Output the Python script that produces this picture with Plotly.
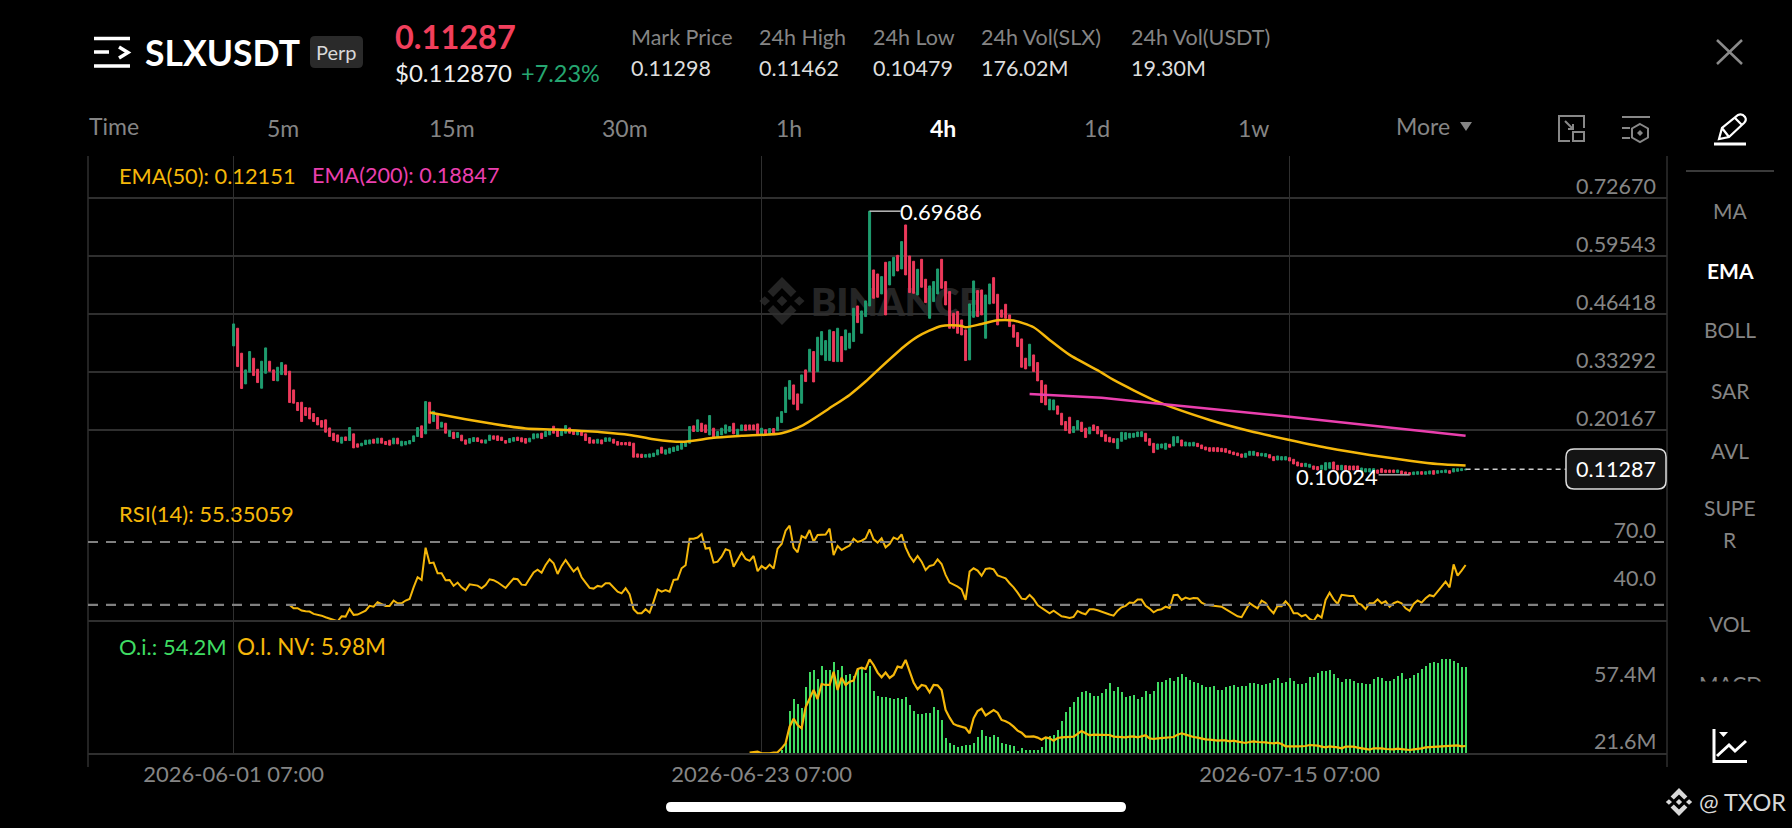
import re
import pandas as pd
import plotly.graph_objects as go

W, H = 1792, 828

# 4h candles from 2026-06-01 07:00
candle_dir = ("grrggrrggr" "rggrrrrrrr" "rrrrrrrgrg" "rrgggrgrrr" "grgggggrgr"
              "grgrgrgrrg" "grrggrrrrg" "grrrgggrgg" "rrggrrgrrr" "rgrggrrrrr"
              "rrrggggrgg" "gggggrgrrg" "rggggrggrr" "rrgrgrgggg" "rrgrgrgggg"
              "rgrgggrggg" "rrgrggrgrr" "rgrrgggrrr" "rrrrggrrgg" "rrrrrrrrrg"
              "rrrrggrrrr" "ggrrgrrrrr" "rgggggggrr" "rgggrggrgg" "grrrrrrrrr"
              "rrrgggrggr" "rgggrrrrgg" "rrgggrrgrr" "rrggggrrrr" "rgrrrggrgg"
              "rgggrgggg")
highs = [
    .4417, .4319, .3754, .3377, .3792, .3641, .3392, .3573, .3875, .3573,
    .3377, .3437, .3543, .3490, .3347, .2924, .2638, .2645, .2525, .2517,
    .2389, .2299, .2230, .2246, .2064, .1944, .1906, .1854, .1861, .2072,
    .1929, .1703, .1718, .1786, .1793, .1808, .1831, .1831, .1756, .1786,
    .1831, .1831, .1763, .1756, .1778, .1884, .2072, .2110, .2660, .2645,
    .2442, .2374, .2193, .2170, .2004, .1967, .1959, .1900, .1793, .1823,
    .1846, .1839, .1793, .1793, .1900, .1884, .1884, .1854, .1778, .1823,
    .1846, .1854, .1839, .1823, .1831, .1929, .1929, .1944, .1982, .2020,
    .2102, .2034, .2004, .2117, .2064, .1997, .2004, .1997, .1929, .1846,
    .1793, .1808, .1793, .1839, .1839, .1808, .1756, .1733, .1733, .1741,
    .1718, .1476, .1469, .1461, .1476, .1492, .1567, .1628, .1567, .1605,
    .1628, .1658, .1718, .1756, .2095, .2110, .2246, .2170, .2132, .2344,
    .2057, .1982, .2057, .2132, .2095, .2170, .2034, .2132, .2132, .2132,
    .2132, .2155, .2057, .2020, .2050, .2050, .2306, .2434, .2985, .3135,
    .3037, .2834, .3264, .3377, .3844, .3792, .4116, .4244, .4040, .4282,
    .4244, .4319, .4131, .4282, .4206, .4772, .4824, .4711, .4938, .69686,
    .5639, .5548, .5488, .5812, .5827, .5925, .5970, .6280, .6657, .5955,
    .5835, .5654, .5880, .5428, .5277, .5375, .5661, .5880, .5375, .5149,
    .4659, .4696, .4508, .4282, .4870, .5390, .5171, .5186, .5073, .5322,
    .5465, .5088, .4734, .4862, .4621, .4395, .4221, .4078, .3641, .3957,
    .3716, .3543, .3136, .3037, .2713, .2698, .2562, .2396, .2208, .2306,
    .2095, .2230, .2193, .2057, .2080, .2132, .2095, .2002, .1911, .1851,
    .1821, .1821, .1964, .1957, .1942, .1942, .1972, .1979, .1942, .1821,
    .1715, .1700, .1700, .1715, .1693, .1866, .1866, .1791, .1745, .1730,
    .1738, .1715, .1678, .1632, .1617, .1617, .1617, .1602, .1595, .1549,
    .1519, .1497, .1474, .1489, .1534, .1534, .1504, .1489, .1482, .1459,
    .1414, .1429, .1414, .1414, .1391, .1353, .1293, .1263, .1263, .1240,
    .1203, .1188, .1218, .1278, .1278, .1293, .1218, .1218, .1210, .1203,
    .1203, .1203, .1157, .1142, .1142, .1142, .1112, .1142, .1112, .1112,
    .1112, .1112, .1090, .1067, .1052, .1067, .1074, .1074, .1074, .1090,
    .1097, .1097, .1097, .1112, .1097, .1142, .1142, .1142, .11287,
]
lows = [
    .3920, .3452, .2955, .3060, .3324, .3249, .3090, .2962, .3301, .3347,
    .3136, .3128, .3271, .3264, .2638, .2623, .2457, .2208, .2344, .2268,
    .2208, .2132, .2080, .1967, .1869, .1778, .1748, .1718, .1778, .1778,
    .1612, .1628, .1658, .1688, .1703, .1718, .1718, .1718, .1688, .1673,
    .1703, .1703, .1658, .1680, .1703, .1756, .1869, .1846, .1929, .2170,
    .2208, .2042, .2080, .1945, .1869, .1823, .1846, .1771, .1695, .1718,
    .1756, .1756, .1725, .1718, .1778, .1808, .1778, .1778, .1718, .1733,
    .1763, .1778, .1748, .1718, .1748, .1816, .1839, .1823, .1869, .1906,
    .1944, .1869, .1891, .1944, .1944, .1914, .1906, .1891, .1778, .1718,
    .1718, .1718, .1703, .1756, .1763, .1718, .1673, .1680, .1680, .1665,
    .1401, .1401, .1394, .1401, .1401, .1416, .1454, .1492, .1469, .1492,
    .1529, .1552, .1582, .1643, .1718, .1982, .1982, .1982, .1959, .1906,
    .1831, .1846, .1906, .1944, .1982, .1929, .1891, .2004, .2004, .2020,
    .2020, .1929, .1906, .1906, .1906, .1944, .2004, .2185, .2412, .2713,
    .2600, .2472, .2623, .3113, .3339, .3105, .3339, .3716, .3588, .3588,
    .3565, .3565, .3565, .3829, .3867, .4018, .4447, .4206, .4583, .4824,
    .4998, .5021, .5096, .4621, .5299, .5503, .5616, .5661, .5526, .5126,
    .5111, .5073, .5247, .4900, .4545, .4922, .5096, .5224, .4847, .4319,
    .4319, .4206, .4168, .3588, .3603, .4568, .4583, .4621, .4093, .4870,
    .4885, .4395, .4568, .4545, .4357, .4116, .3905, .3437, .3399, .3467,
    .3339, .3128, .2638, .2585, .2472, .2472, .2374, .2132, .2004, .1944,
    .1959, .2020, .1982, .1846, .1929, .2004, .1929, .1866, .1761, .1745,
    .1730, .1595, .1761, .1806, .1836, .1851, .1866, .1866, .1761, .1670,
    .1504, .1580, .1610, .1580, .1625, .1655, .1730, .1655, .1655, .1655,
    .1655, .1640, .1595, .1565, .1534, .1534, .1527, .1527, .1512, .1489,
    .1459, .1436, .1399, .1399, .1444, .1444, .1429, .1429, .1414, .1384,
    .1323, .1338, .1338, .1338, .1316, .1248, .1203, .1188, .1188, .1173,
    .1127, .1112, .1127, .1112, .1150, .1127, .1112, .1112, .1112, .1112,
    .1112, .1097, .1067, .1067, .1067, .1052, .1037, .1052, .1052, .1052,
    .1052, .1052, .1022, .1007, .10024, .1007, .1014, .1014, .1014, .1022,
    .1014, .1037, .1052, .1052, .1037, .1067, .1082, .1097, .1112,
]

ema50_idx = [49, 58, 64, 73, 80, 92, 99, 105, 112, 120, 127, 137, 142, 150, 154, 158, 162,
             168, 171, 177, 182, 183, 187, 191, 195, 200, 204, 209, 217, 220, 231, 244,
             254, 264, 274, 284, 294, 301, 308]
ema50 = [.2412, .2261, .2170, .2050, .2027, .1967, .1906, .1808, .1748, .1839, .1884, .1944,
         .2110, .2570, .2811, .3113, .3452, .3935, .4131, .4372, .4372, .4342, .4417, .4500,
         .4493, .4342, .4055, .3716, .3316, .3150, .2657, .2243, .1994, .1791, .1602, .1451,
         .1323, .1248, .12151]
ema200_idx = [199, 208, 217, 232, 264, 308]
ema200 = [.2834, .2789, .2745, .2605, .2318, .18847]

rsi_start = 14
rsi = [
    30.0, 27.9, 27.9, 26.4, 26.0, 25.8, 24.3, 23.9, 23.2, 22.2, 21.3, 20.3, 19.6, 22.8, 22.6, 27.5,
    23.7, 23.9, 25.3, 26.4, 29.4, 28.9, 31.7, 30.4, 29.4, 29.4, 32.8, 31.1, 31.1, 32.8, 33.8, 41.2,
    47.6, 45.9, 66.4, 56.5, 56.9, 50.1, 50.1, 45.7, 45.9, 42.1, 44.2, 41.2, 39.3, 43.1, 42.7, 42.3,
    40.6, 42.7, 46.3, 45.7, 44.4, 42.5, 40.8, 43.8, 46.7, 46.3, 42.9, 42.7, 46.5, 50.7, 52.4, 50.5,
    55.4, 59.0, 56.5, 49.7, 54.8, 58.6, 54.8, 51.2, 53.7, 47.6, 44.2, 40.8, 40.4, 42.1, 41.6, 43.8,
    43.8, 41.0, 38.5, 37.4, 40.6, 36.8, 27.3, 24.7, 24.7, 27.3, 25.1, 32.1, 39.9, 38.5, 39.5, 38.5,
    45.9, 46.3, 53.3, 55.2, 72.1, 72.1, 72.8, 75.1, 65.8, 66.2, 56.9, 57.5, 60.7, 65.4, 64.5, 54.3,
    58.6, 63.2, 59.2, 58.0, 61.1, 51.4, 54.8, 52.9, 55.6, 53.1, 65.8, 68.7, 77.2, 80.4, 66.4, 63.4,
    73.8, 72.5, 77.6, 70.2, 74.4, 74.7, 74.7, 78.5, 61.7, 67.5, 64.9, 66.4, 67.7, 72.1, 70.0, 70.8,
    72.3, 78.0, 71.7, 69.6, 72.3, 66.6, 68.7, 72.8, 71.7, 74.9, 66.6, 61.1, 57.5, 61.1, 57.5, 52.2,
    54.8, 55.4, 59.0, 56.0, 49.1, 44.2, 43.1, 41.6, 39.9, 33.2, 51.2, 53.3, 51.8, 48.6, 52.9, 53.3,
    52.6, 48.8, 47.8, 46.9, 43.8, 41.2, 37.8, 34.0, 33.6, 36.4, 33.8, 30.0, 28.1, 26.2, 24.7, 26.4,
    24.7, 22.8, 22.4, 21.8, 22.4, 26.2, 24.9, 24.1, 27.3, 27.3, 26.6, 25.6, 24.5, 23.9, 23.2, 26.4,
    28.5, 29.4, 31.5, 31.3, 33.4, 33.4, 29.4, 27.7, 25.3, 26.8, 27.3, 28.9, 28.1, 36.2, 36.4, 33.2,
    34.7, 33.8, 34.4, 34.2, 31.5, 30.2, 29.8, 29.4, 29.4, 28.9, 27.3, 25.8, 24.3, 22.8, 22.2, 26.8,
    31.1, 29.4, 27.9, 32.8, 31.3, 27.3, 24.7, 29.4, 29.2, 32.3, 29.4, 24.7, 24.7, 22.8, 23.7, 21.1,
    19.8, 23.7, 22.0, 33.2, 37.8, 33.6, 30.6, 36.4, 35.9, 35.7, 35.7, 31.1, 30.0, 27.3, 31.1, 31.1,
    33.6, 31.1, 32.3, 28.9, 31.1, 32.1, 31.1, 27.9, 26.2, 30.6, 32.8, 31.5, 34.2, 36.2, 35.5, 38.3,
    41.6, 44.8, 41.2, 55.8, 48.6, 51.8, 55.35059,
]

oi_start = 137
oi = [
    2.5, 6.7, 26.7, 34.4, 31.3, 29.0, 41.9, 51.5, 52.3, 46.9, 55.0, 52.3, 52.3, 57.8, 52.3, 55.0,
    49.4, 50.0, 49.0, 53.4, 54.0, 50.7, 55.0, 39.2, 36.3, 35.9, 35.4, 34.8, 34.6, 35.0, 34.6, 35.4,
    30.9, 26.9, 24.8, 24.8, 25.9, 25.9, 29.2, 27.5, 21.1, 10.0, 7.1, 5.8, 4.6, 5.2, 5.4, 5.6,
    7.1, 10.8, 14.8, 11.3, 10.6, 11.9, 10.4, 6.9, 6.3, 5.8, 5.2, 1.7, 3.5, 2.5, 2.3, 2.3,
    2.5, 4.4, 10.8, 11.3, 11.7, 15.0, 20.9, 26.1, 29.2, 32.3, 35.4, 38.6, 39.2, 37.9, 36.3, 36.3,
    37.9, 40.9, 44.6, 39.4, 41.7, 38.8, 35.4, 36.3, 36.7, 34.4, 35.9, 39.2, 37.7, 39.2, 45.0, 45.2,
    46.3, 47.3, 45.9, 48.4, 49.8, 48.4, 46.3, 45.0, 44.2, 43.2, 41.7, 41.9, 42.5, 39.8, 40.2, 42.1,
    42.5, 43.2, 41.9, 42.3, 42.5, 44.2, 44.2, 44.0, 43.2, 43.6, 44.2, 46.3, 47.5, 44.6, 45.2, 47.3,
    45.7, 44.0, 44.0, 44.4, 48.0, 48.4, 50.5, 51.7, 51.9, 52.5, 50.0, 47.7, 44.8, 46.7, 46.7, 45.5,
    44.2, 44.4, 44.0, 43.6, 46.9, 48.2, 47.7, 45.7, 45.7, 46.7, 49.0, 50.9, 47.1, 47.3, 49.4, 50.5,
    53.2, 54.8, 57.1, 57.3, 57.1, 59.2, 59.2, 59.4, 58.2, 56.7, 54.2, 54.2,
]
nv_start = 129
oi_nv = [
    4.06, 4.16, 4.35, 3.87, 3.77, 3.87, 4.06, 4.16, 5.31, 6.75, 11.56, 13.87, 12.04, 11.08, 17.14, 19.74,
    22.14, 19.55, 23.88, 23.59, 23.59, 27.41, 22.14, 25.70, 23.59, 24.55, 24.84, 28.20, 28.59, 28.20, 30.99, 29.36,
    27.15, 25.80, 27.15, 25.61, 26.47, 28.88, 28.59, 30.80, 27.41, 24.26, 22.34, 23.59, 23.30, 21.47, 23.59, 23.49,
    22.14, 16.37, 14.16, 12.33, 11.85, 11.56, 11.18, 9.64, 13.97, 16.08, 16.76, 14.83, 15.70, 16.37, 15.60, 13.49,
    13.10, 12.52, 11.56, 10.41, 9.83, 8.68, 8.68, 8.77, 8.39, 7.81, 8.48, 8.19, 7.52, 8.29, 8.48, 8.48,
    8.58, 8.68, 9.45, 10.31, 9.64, 9.06, 9.25, 9.25, 9.16, 9.25, 9.16, 8.68, 8.58, 8.48, 8.48, 8.68,
    8.77, 8.48, 8.68, 9.06, 8.19, 8.00, 8.19, 8.29, 8.48, 8.68, 8.58, 9.25, 9.64, 9.25, 8.87, 8.58,
    8.39, 8.10, 7.91, 7.81, 7.62, 7.52, 7.62, 7.62, 7.33, 7.52, 7.23, 6.94, 6.85, 7.14, 7.33, 7.14,
    7.14, 7.04, 6.85, 6.75, 6.94, 6.56, 5.89, 5.79, 5.89, 5.89, 5.89, 5.98, 6.27, 6.27, 6.08, 5.79,
    5.60, 5.89, 5.79, 5.60, 5.31, 5.79, 5.79, 5.79, 5.50, 5.31, 5.02, 4.92, 5.31, 5.41, 5.31, 5.12,
    5.02, 5.02, 5.21, 5.12, 4.92, 4.83, 5.02, 5.12, 5.31, 5.60, 5.69, 5.69, 5.79, 5.79, 5.89, 5.98,
    6.08, 6.17, 5.89, 5.98,
]

price_ticks = [0.72670, 0.59543, 0.46418, 0.33292, 0.20167, 0.07040]
price_labels = ["0.72670", "0.59543", "0.46418", "0.33292", "0.20167", "0.07040"]
rsi_ticks = [70, 40]
rsi_levels = [70, 30]
oi_labels = ["57.4M", "21.6M"]
date_ticks = ["2026-06-01 07:00", "2026-06-23 07:00", "2026-07-15 07:00"]
last_price = 0.11287
max_price, min_price = 0.69686, 0.10024
max_i, min_i = 159, 294

UP, DOWN = "#1f9d6f", "#ee3a5b"
YEL, PINK, OIG = "#f5b70a", "#ea3fae", "#3fdc62"
GREY, FAINT, GRID = "#858585", "#dddddd", "#2f2f2f"
FONT = "Lato"

dates = pd.date_range("2026-06-01 07:00", periods=len(highs), freq="4h")
date_str = dates.strftime("%Y-%m-%d %H:%M").tolist()
opens = [l if d == "g" else h for d, h, l in zip(candle_dir, highs, lows)]
closes = [h if d == "g" else l for d, h, l in zip(candle_dir, highs, lows)]
opens[-1], closes[-1] = lows[-1], last_price


def fx(x):
    return x / W


def fy(y):
    return 1 - y / H


def hours(i, h):
    return (dates[i] + pd.Timedelta(hours=h)).strftime("%Y-%m-%d %H:%M")


def px_path(s):
    # numbers in the string are page pixels, x y x y ...
    nums = iter(range(10000))

    def rep(m):
        v = float(m.group())
        return f"{fx(v):.5f}" if next(nums) % 2 == 0 else f"{fy(v):.5f}"
    return re.sub(r"\d+\.?\d*", rep, s)


def rr(x0, y0, x1, y1, r):
    return (f"M{x0 + r} {y0} L{x1 - r} {y0} Q{x1} {y0} {x1} {y0 + r} L{x1} {y1 - r} Q{x1} {y1} {x1 - r} {y1} "
            f"L{x0 + r} {y1} Q{x0} {y1} {x0} {y1 - r} L{x0} {y0 + r} Q{x0} {y0} {x0 + r} {y0} Z")


def logo(cx, cy, r):
    def poly(pts):
        return "M" + " L".join(f"{cx + a * r:.2f} {cy + b * r:.2f}" for a, b in pts) + " Z"
    top = [(-.6, -.4), (0, -1), (.6, -.4), (.37, -.17), (0, -.54), (-.37, -.17)]
    bot = [(a, -b) for a, b in top]
    parts = [top, bot,
             [(0, -.22), (.22, 0), (0, .22), (-.22, 0)],
             [(-.72, -.2), (-.5, 0 - .0), (-.72, .2), (-.94, 0)],
             [(.72, -.2), (.94, 0), (.72, .2), (.5, 0)]]
    return " ".join(poly(p) for p in parts)


shapes, notes = [], []


def draw(path, color=None, width=2, fill=None, layer="above"):
    shapes.append(dict(type="path", xref="paper", yref="paper", path=px_path(path), layer=layer,
                       line=dict(color=color or "rgba(0,0,0,0)", width=width if color else 0),
                       fillcolor=fill or "rgba(0,0,0,0)"))


def txt(x, y, s, size=20, color=GREY, anchor="left", weight=400):
    notes.append(dict(x=fx(x), y=fy(y), xref="paper", yref="paper", text=s, showarrow=False,
                      xanchor=anchor, yanchor="middle", borderpad=0,
                      font=dict(family=FONT, size=size, color=color, weight=weight)))


# header
draw("M94 38.5 L130 38.5 M94 52 L109 52 M119 47 L128 52.5 L119 58 M94 66 L130 66", "#ffffff", 3.5)
txt(144, 52, "SLXUSDT", 35.5, "#ffffff", weight=700)
draw(rr(310, 36, 363, 68, 5), fill="#2a2a2a")
txt(336.5, 52, "Perp", 20, "#d8d8d8", "center")
txt(394, 37, "0.11287", 32.5, "#f23f5c", weight=700)
txt(394, 73, "$0.112870", 24, "#eeeeee")
txt(520, 73, "+7.23%", 23.5, "#26a671")
stat_names = ["Mark Price", "24h High", "24h Low", "24h Vol(SLX)", "24h Vol(USDT)"]
stat_values = ["0.11298", "0.11462", "0.10479", "176.02M", "19.30M"]
stat_x = [630, 758, 872, 980, 1130]
for sx, sn, sv in zip(stat_x, stat_names, stat_values):
    txt(sx, 37, sn, 21.5, GREY)
    txt(sx, 68, sv, 21.5, FAINT)
draw("M1717 40 L1742 64 M1742 40 L1717 64", "#8a8a8a", 2.5)

# time tabs
tab_names = ["5m", "15m", "30m", "1h", "1d", "1w"]
tab_x = [283, 452, 625, 789, 1097, 1253]
txt(88, 126, "Time", 23, GREY)
for tx, tn in zip(tab_x, tab_names):
    txt(tx, 128, tn, 23, GREY, "center")
txt(943, 128, "4h", 23, "#ffffff", "center", 700)
txt(1395, 126, "More", 23, GREY)
draw("M1460 122 L1472 122 L1466 131 Z", fill=GREY)
draw("M1584 128 L1584 116 L1559 116 L1559 141 L1570 141 M1565 121 L1573 129 M1573 124 L1573 129 L1568 129", "#888888", 2)
draw("M1573 132 L1584 132 L1584 141 L1573 141 Z", "#888888", 2)
draw("M1622 117 L1650 117 M1622 128 L1630 128 M1622 138 L1630 138 "
     "M1640 124 L1648 128.5 L1648 137.5 L1640 142 L1632 137.5 L1632 128.5 Z", "#888888", 2)
draw("M1640 130 L1643 133 L1640 136 L1637 133 Z", fill="#888888")

# side menu
draw("M1719 139 L1722 128 L1738 115 Q1742 113 1745 117 Q1747 120 1744 123 L1729 137 Z M1722 128 L1729 137 M1735 118 L1742 125", "#ffffff", 2.2)
draw("M1714 144 L1746 144", "#ffffff", 3)
draw("M1686 171 L1774 171", "#3a3a3a", 2)
menu = [("MA", 210), ("BOLL", 329), ("SAR", 390), ("AVL", 450), ("SUPE", 508), ("R", 539), ("VOL", 623), ("MACD", 683)]
for name, my in menu:
    txt(1730, my, name, 21, GREY, "center")
txt(1730, 270, "EMA", 21, "#ffffff", "center", 700)
notes.append(dict(x=fx(1730), y=fy(696), xref="paper", yref="paper", text=" ", showarrow=False, width=110, height=26,
                  xanchor="center", yanchor="middle", bgcolor="#000000", font=dict(size=10)))
draw("M1686 705 L1774 705", "#3a3a3a", 2)
draw("M1714 729 L1714 761.5 L1747 761.5 M1717 756 L1729 745 L1735 751 L1746 741", "#ffffff", 3)
draw("M1719 732 L1728 732 L1723.5 737 Z", fill="#ffffff")

# frame and separators
for bx in (88, 1667):
    draw(f"M{bx} 156 L{bx} 767", GRID, 1.5)
for by in (621, 754):
    draw(f"M88 {by} L1667 {by}", GRID, 2)

# watermark
draw(logo(782, 301, 24), fill="#242424", layer="below")
shapes.append(dict(type="rect", xref="paper", yref="paper", x0=fx(812), x1=fx(980), y0=fy(316), y1=fy(286), layer="below",
                   line=dict(width=0), label=dict(text="BINANCE", font=dict(family=FONT, size=38, color="#252525", weight=800),
                                                  textposition="middle center")))

# legends
txt(118, 175, "EMA(50): 0.12151", 21.8, YEL)
txt(311, 175, "EMA(200): 0.18847", 21.6, PINK)
txt(118, 513, "RSI(14): 55.35059", 22, YEL)
txt(118, 646, "O.i.: 54.2M", 22, OIG)
txt(236, 646, "O.I. NV: 5.98M", 22.5, YEL)
for oi_y, oi_l in zip((674, 741), oi_labels):
    txt(1657, oi_y, oi_l, 21.5, GREY, "right")

# high/low and last price marks
shapes.append(dict(type="line", xref="x", yref="y", x0=date_str[max_i], x1=hours(max_i, 31), y0=max_price, y1=max_price,
                   line=dict(color="#bbbbbb", width=1.5)))
shapes.append(dict(type="line", xref="x", yref="y", x0=hours(min_i, -31), x1=date_str[min_i], y0=min_price, y1=min_price,
                   line=dict(color="#aaaaaa", width=1.5)))
shapes.append(dict(type="line", xref="x", yref="y", x0=date_str[-1], x1=hours(len(dates) - 1, 100), y0=last_price, y1=last_price,
                   line=dict(color="#cccccc", width=1.3, dash="5px,4px")))
for lvl in rsi_levels:
    shapes.append(dict(type="line", xref="paper", yref="y2", x0=fx(88), x1=fx(1667), y0=lvl, y1=lvl,
                       line=dict(color="#808080", width=2.2, dash="10px,8px")))
notes.append(dict(x=hours(max_i, 29), y=max_price, xref="x", yref="y", text="0.69686", showarrow=False, xanchor="left",
                  yanchor="middle", borderpad=0, font=dict(family=FONT, size=22, color="#ffffff")))
notes.append(dict(x=hours(min_i, -31), y=min_price, xref="x", yref="y", text="0.10024", showarrow=False, xanchor="right",
                  yanchor="middle", yshift=-2, borderpad=0, font=dict(family=FONT, size=22, color="#ffffff")))
draw(rr(1566, 449, 1666, 489, 8), "#dddddd", 1.5, "rgba(22,22,22,0.92)")
txt(1616, 469, f"{last_price:.5f}", 21.5, "#ffffff", "center")

# bottom of the page
draw(rr(666, 802, 1126, 812, 5), fill="#ffffff")
draw(logo(1679, 802, 14), fill="#d8d8d8")
txt(1698, 802, "@ TXOR", 23.5, "#d8d8d8")

fig = go.Figure()
fig.add_trace(go.Candlestick(x=date_str, open=opens, high=highs, low=lows, close=closes, xaxis="x", yaxis="y",
                             whiskerwidth=0,
                             increasing=dict(line=dict(color=UP, width=1), fillcolor=UP),
                             decreasing=dict(line=dict(color=DOWN, width=1), fillcolor=DOWN)))
fig.add_trace(go.Scatter(x=[date_str[i] for i in ema50_idx], y=ema50, mode="lines", yaxis="y",
                         line=dict(color=YEL, width=2.5, shape="spline", smoothing=0.7)))
fig.add_trace(go.Scatter(x=[date_str[i] for i in ema200_idx], y=ema200, mode="lines", yaxis="y",
                         line=dict(color=PINK, width=2.5)))
fig.add_trace(go.Scatter(x=date_str[rsi_start:], y=rsi, mode="lines", yaxis="y2", line=dict(color=YEL, width=2)))
fig.add_trace(go.Bar(x=date_str[oi_start:], y=oi, yaxis="y3", width=2.1 * 3600000, marker=dict(color=OIG, line=dict(width=0))))
fig.add_trace(go.Scatter(x=date_str[nv_start:], y=oi_nv, mode="lines", yaxis="y4", line=dict(color=YEL, width=2.2)))

tick_font = dict(family=FONT, size=21.5, color=GREY)
fig.update_layout(
    width=W, height=H, margin=dict(l=0, r=0, t=0, b=0), showlegend=False, hovermode=False,
    paper_bgcolor="#000000", plot_bgcolor="rgba(0,0,0,0)", font=dict(family=FONT),
    shapes=shapes, annotations=notes, bargap=0,
    xaxis=dict(domain=[fx(88), fx(1667)], anchor="y3", type="date", range=["2026-05-26 05:24", "2026-07-31 00:24"],
               rangeslider=dict(visible=False), tickmode="array", tickvals=date_ticks, ticktext=date_ticks,
               tickfont=dict(family=FONT, size=22, color=GREY), ticks="", ticklabelstandoff=5,
               showgrid=True, gridcolor=GRID, gridwidth=1.2, zeroline=False, showline=False),
    yaxis=dict(domain=[fy(488), fy(156)], anchor="x", side="right", range=[0.07040, 0.82175], tickmode="array",
               tickvals=price_ticks, ticktext=price_labels, ticklabelposition="inside top", tickfont=tick_font,
               ticklabelstandoff=8, ticklabelshift=4,
               showgrid=True, gridcolor=GRID, gridwidth=1.5, zeroline=False, showline=False),
    yaxis2=dict(domain=[fy(621), fy(488)], anchor="x", side="right", range=[19.8, 104.3], tickmode="array",
                tickvals=rsi_ticks, ticktext=["70.0", "40.0"], ticklabelposition="inside top", tickfont=tick_font,
                ticklabelstandoff=8, ticklabelshift=4,
                showgrid=False, zeroline=False, showline=False),
    yaxis3=dict(domain=[fy(754), fy(621)], anchor="x", side="right", range=[0, 83.2], visible=False),
    yaxis4=dict(domain=[fy(754), fy(621)], anchor="x", overlaying="y3", side="right", range=[3.67, 42.05], visible=False),
)

fig.write_html("out.html", config=dict(displayModeBar=False),
               post_script="document.body.style.margin='0';document.body.style.background='#000';")
